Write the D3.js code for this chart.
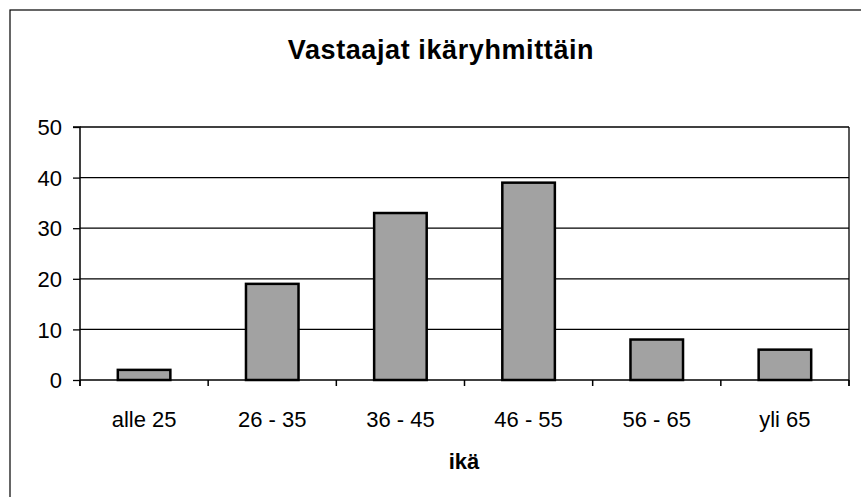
<!DOCTYPE html>
<html>
<head>
<meta charset="utf-8">
<script src="https://cdn.jsdelivr.net/npm/d3@7"></script>
<style>
  body { margin: 0; background: #fff; }
  text { font-family: "Liberation Sans", Arial, sans-serif; }
</style>
</head>
<body>
<svg id="chart" width="861" height="497"></svg>
<script>
// dati
const ageGroups = ["alle 25", "26 - 35", "36 - 45", "46 - 55", "56 - 65", "yli 65"];
const respondents = [2, 19, 33, 39, 8, 6];
const yTicks = [0, 10, 20, 30, 40, 50];

const width = 861, height = 497;
const margin = { top: 127, right: 12, bottom: 117, left: 80 };

const svg = d3.select("#chart");

// cornice esterna
svg.append("rect")
    .attr("x", 10).attr("y", 10)
    .attr("width", 870).attr("height", 500)
    .attr("fill", "none")
    .attr("stroke", "#000")
    .attr("stroke-width", 1.2);

const x = d3.scaleBand()
    .domain(ageGroups)
    .range([margin.left, width - margin.right])
    .paddingInner(0.59)
    .paddingOuter(0.295);

const y = d3.scaleLinear()
    .domain([0, 50])
    .range([height - margin.bottom, margin.top]);

// griglia
svg.append("g")
    .selectAll("line")
    .data(yTicks.filter(d => d > 0))
    .join("line")
    .attr("x1", margin.left)
    .attr("x2", width - margin.right)
    .attr("y1", d => y(d))
    .attr("y2", d => y(d))
    .attr("stroke", "#000")
    .attr("stroke-width", 1.3);

// bordo destro area grafico
svg.append("line")
    .attr("x1", width - margin.right).attr("x2", width - margin.right)
    .attr("y1", y(50)).attr("y2", y(0) + 6)
    .attr("stroke", "#000")
    .attr("stroke-width", 1.3);

// barre
svg.append("g")
    .selectAll("rect")
    .data(ageGroups)
    .join("rect")
    .attr("x", d => x(d))
    .attr("y", (d, i) => y(respondents[i]))
    .attr("width", x.bandwidth())
    .attr("height", (d, i) => y(0) - y(respondents[i]))
    .attr("fill", "#a2a2a2")
    .attr("stroke", "#000")
    .attr("stroke-width", 2.5);

// asse y
const yAxis = d3.axisLeft(y)
    .tickValues(yTicks)
    .tickSize(7)
    .tickPadding(11);

svg.append("g")
    .attr("transform", `translate(${margin.left},0)`)
    .call(yAxis)
    .call(g => g.select(".domain").attr("stroke", "#000").attr("stroke-width", 1.5).attr("d", `M-7,${y(50)}H0V${y(0) + 6}`))
    .call(g => g.selectAll(".tick line").attr("stroke-width", 1.3))
    .call(g => g.selectAll("text").attr("font-size", 22).attr("fill", "#000").attr("font-family", "Liberation Sans, Arial, sans-serif").attr("dy", "0.35em"));

// asse x, tacche ai confini delle categorie
const step = x.step();
const boundaries = d3.range(ageGroups.length + 1).map(i => margin.left + i * step);

svg.append("line")
    .attr("x1", margin.left).attr("x2", width - margin.right)
    .attr("y1", y(0)).attr("y2", y(0))
    .attr("stroke", "#000")
    .attr("stroke-width", 1.5);

svg.append("g")
    .selectAll("line")
    .data(boundaries)
    .join("line")
    .attr("x1", d => d).attr("x2", d => d)
    .attr("y1", y(0)).attr("y2", y(0) + 6)
    .attr("stroke", "#000")
    .attr("stroke-width", 1.5);

svg.append("g")
    .selectAll("text")
    .data(ageGroups)
    .join("text")
    .attr("x", d => x(d) + x.bandwidth() / 2)
    .attr("y", 427)
    .attr("text-anchor", "middle")
    .attr("font-size", 22)
    .text(d => d);

// titolo asse
svg.append("text")
    .attr("x", 464)
    .attr("y", 469)
    .attr("text-anchor", "middle")
    .attr("font-size", 22)
    .attr("font-weight", "bold")
    .text("ikä");

// titolo
svg.append("text")
    .attr("x", 441)
    .attr("y", 59)
    .attr("text-anchor", "middle")
    .attr("font-size", 27)
    .attr("font-weight", "bold")
    .attr("letter-spacing", 0.6)
    .text("Vastaajat ikäryhmittäin");
</script>
</body>
</html>
